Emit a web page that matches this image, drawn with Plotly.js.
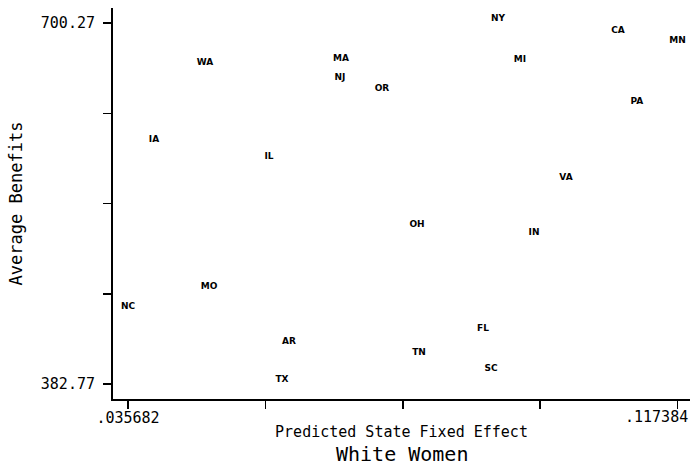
<!DOCTYPE html>
<html>
<head>
<meta charset="utf-8">
<script src="https://cdn.plot.ly/plotly-3.0.1.min.js"></script>
<style>html,body{margin:0;padding:0;background:#fff;}#chart{width:690px;height:465px;}</style>
</head>
<body>
<div id="chart"></div>
<script>
const states = ["NY","CA","MN","WA","MA","NJ","MI","OR","PA","IA","IL","VA","OH","IN","MO","NC","FL","AR","TN","SC","TX"];
const fixedEffect = [0.090694,0.108535,0.117384,0.047130,0.067351,0.067203,0.093965,0.073447,0.111360,0.039548,0.056646,0.100804,0.078651,0.096046,0.047725,0.035682,0.088463,0.059619,0.078948,0.089653,0.058579];
const avgBenefits = [700.27,689.72,680.92,661.57,665.09,648.38,664.21,638.70,627.27,593.85,578.90,560.43,519.09,512.06,464.56,446.97,427.62,416.19,406.52,392.44,382.77];
const xTickVals = [0.035682,0.056108,0.076533,0.096959,0.117384];
const xTickText = [".035682","","","",""];
const xMaxLabel = ".117384";
const yTickVals = [382.77,462.145,541.52,620.895,700.27];
const yTickText = ["382.77","","","","700.27"];

const trace = {
  x: fixedEffect, y: avgBenefits, text: states,
  type: "scatter", mode: "text",
  textposition: "top center",
  textfont: {family: "DejaVu Sans", size: 9, color: "#000", weight: "bold"},
  hoverinfo: "none", cliponaxis: false
};
const layout = {
  width: 690, height: 465,
  margin: {l: 113, r: 0, t: 8, b: 66},
  paper_bgcolor: "#fff", plot_bgcolor: "#fff",
  showlegend: false,
  font: {family: "DejaVu Sans Mono", color: "#000"},
  xaxis: {
    range: [0.033452, 0.119243], showgrid: false, zeroline: false,
    showline: true, linecolor: "#000", linewidth: 2,
    ticks: "outside", ticklen: 8, tickwidth: 1.5, tickcolor: "#000",
    tickmode: "array", tickvals: xTickVals, ticktext: xTickText,
    tickfont: {family: "DejaVu Sans Mono", size: 15, color: "#000"},
    ticklabelstandoff: -4,
    title: {text: "Predicted State Fixed Effect", font: {family: "DejaVu Sans Mono", size: 15, color: "#000"}, standoff: 0}
  },
  yaxis: {
    range: [369.58, 713.46], showgrid: false, zeroline: false,
    showline: true, linecolor: "#000", linewidth: 2,
    ticks: "outside", ticklen: 8, tickwidth: 1.5, tickcolor: "#000",
    tickmode: "array", tickvals: yTickVals, ticktext: yTickText,
    tickfont: {family: "DejaVu Sans Mono", size: 15, color: "#000"},
    ticklabelstandoff: 5,
    title: {text: "Average Benefits", font: {family: "DejaVu Sans Mono", size: 17, color: "#000"}, standoff: 14}
  },
  annotations: [
    {
      text: xMaxLabel, xref: "paper", yref: "paper", x: 1, y: 0,
      yshift: -18, xanchor: "right", yanchor: "middle", showarrow: false,
      font: {family: "DejaVu Sans Mono", size: 15, color: "#000"}
    },
    {
      text: "White Women", xref: "paper", yref: "paper", x: 0.5, y: 0,
      yshift: -55, xanchor: "center", yanchor: "middle", showarrow: false,
      font: {family: "DejaVu Sans Mono", size: 20, color: "#000"}
    }
  ]
};
Plotly.newPlot("chart", [trace], layout, {staticPlot: true, displayModeBar: false});
</script>
</body>
</html>
